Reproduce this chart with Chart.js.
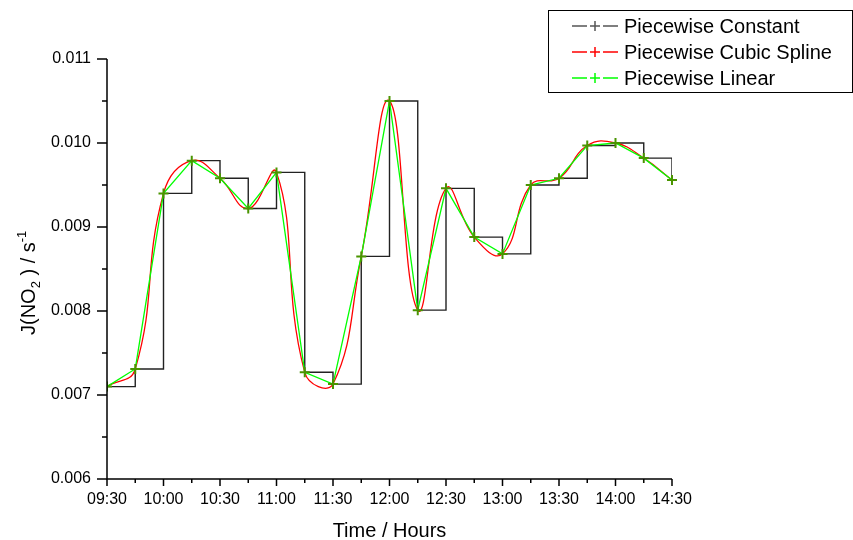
<!DOCTYPE html>
<html lang="en">
<head>
<meta charset="UTF-8">
<title>J(NO2) interpolation</title>
<script src="https://cdn.jsdelivr.net/npm/chart.js@4.4.1/dist/chart.umd.min.js"></script>
<style>
    html, body { margin: 0; padding: 0; background: #fff; }
    #chart { display: block; }
</style>
</head>
<body>
<canvas id="chart" width="853" height="540"></canvas>
<script>
// measurement times and photolysis rate J(NO2) in s^-1
const times = ['09:30', '09:45', '10:00', '10:15', '10:30', '10:45', '11:00',
               '11:15', '11:30', '11:45', '12:00', '12:15', '12:30', '12:45',
               '13:00', '13:15', '13:30', '13:45', '14:00', '14:15', '14:30'];
const jValues = [0.00710, 0.00731, 0.00940, 0.00979, 0.00958, 0.00922, 0.00965,
                 0.00727, 0.00713, 0.00865, 0.01050, 0.00801, 0.00946, 0.00888,
                 0.00868, 0.00950, 0.00958, 0.00997, 0.01000, 0.00982, 0.00956];
const seriesNames = ['Piecewise Constant', 'Piecewise Cubic Spline', 'Piecewise Linear'];
const seriesColors = ['#222222', '#ff0000', '#00ff00'];
const yTicks = [0.006, 0.007, 0.008, 0.009, 0.010, 0.011];

const FONT = '"Liberation Sans", Arial, sans-serif';

function toMinutes(t) {
    const [h, m] = t.split(':').map(Number);
    return h * 60 + m;
}
function fmtTime(v) {
    const h = Math.floor(v / 60), m = v % 60;
    return String(h).padStart(2, '0') + ':' + String(m).padStart(2, '0');
}

const points = times.map((t, i) => ({ x: toMinutes(t), y: jValues[i] }));
const xMin = toMinutes(times[0]);
const xMax = toMinutes(times[times.length - 1]);

// axes lines, major/minor ticks, axis titles and the boxed legend
const decorations = {
    id: 'decorations',
    afterDraw(chart) {
        const ctx = chart.ctx;
        const area = chart.chartArea;
        const xs = chart.scales.x, ys = chart.scales.y;
        ctx.save();
        ctx.strokeStyle = '#000';
        ctx.lineWidth = 1.5;
        ctx.beginPath();
        ctx.moveTo(area.left, area.top);
        ctx.lineTo(area.left, area.bottom);
        ctx.lineTo(area.right, area.bottom);
        ctx.stroke();

        ctx.beginPath();
        for (let v = xMin; v <= xMax; v += 15) {
            const px = xs.getPixelForValue(v);
            const len = (v % 30 === 0) ? 7 : 4;
            ctx.moveTo(px, area.bottom);
            ctx.lineTo(px, area.bottom + len);
        }
        for (let i = 0; i <= 10; i++) {
            const v = yTicks[0] + i * 0.0005;
            const py = ys.getPixelForValue(v);
            const len = (i % 2 === 0) ? 10 : 5;
            ctx.moveTo(area.left, py);
            ctx.lineTo(area.left - len, py);
        }
        ctx.stroke();

        // x title
        ctx.fillStyle = '#000';
        ctx.font = '20px ' + FONT;
        ctx.textAlign = 'center';
        ctx.textBaseline = 'alphabetic';
        ctx.fillText('Time / Hours', (area.left + area.right) / 2, 537);

        // y title with subscript and superscript
        ctx.save();
        ctx.translate(35, 335);
        ctx.rotate(-Math.PI / 2);
        ctx.textAlign = 'left';
        const parts = [
            ['J(NO', 20, 0],
            ['2', 13, 5],
            [' ) / s', 20, 0],
            ['-1', 13, -9]
        ];
        let x = 0;
        for (const [txt, size, dy] of parts) {
            ctx.font = size + 'px ' + FONT;
            ctx.fillText(txt, x, dy);
            x += ctx.measureText(txt).width;
        }
        ctx.restore();

        // legend
        ctx.lineWidth = 1;
        ctx.strokeStyle = '#000';
        ctx.strokeRect(548.5, 10.5, 304, 82);
        ctx.font = '20px ' + FONT;
        ctx.textBaseline = 'middle';
        ctx.textAlign = 'left';
        seriesNames.forEach((name, i) => {
            const y = 26 + i * 26;
            ctx.strokeStyle = i === 0 ? '#555' : seriesColors[i];
            ctx.lineWidth = 1.5;
            ctx.beginPath();
            ctx.moveTo(572, y); ctx.lineTo(587, y);
            ctx.moveTo(603, y); ctx.lineTo(618, y);
            ctx.moveTo(590, y); ctx.lineTo(600, y);
            ctx.moveTo(595, y - 5); ctx.lineTo(595, y + 5);
            ctx.stroke();
            ctx.fillStyle = '#000';
            ctx.fillText(name, 624, y + 1);
        });
        ctx.restore();
    }
};

new Chart(document.getElementById('chart'), {
    type: 'line',
    data: {
        datasets: [
            {
                label: seriesNames[2],
                data: points,
                borderColor: seriesColors[2],
                borderWidth: 1.3,
                tension: 0,
                pointStyle: 'cross',
                pointRadius: 5,
                pointBorderColor: '#4a9400',
                pointBorderWidth: 2,
                clip: { left: 0, top: 10, right: 10, bottom: 10 },
                order: 0
            },
            {
                label: seriesNames[1],
                data: points,
                borderColor: seriesColors[1],
                borderWidth: 1.3,
                tension: 0.45,
                pointRadius: 0,
                order: 1
            },
            {
                label: seriesNames[0],
                data: points,
                borderColor: seriesColors[0],
                borderWidth: 1.4,
                stepped: true,
                pointRadius: 0,
                order: 2
            }
        ]
    },
    options: {
        responsive: false,
        animation: false,
        devicePixelRatio: 1,
        layout: { padding: { top: 59, right: 181, left: 0, bottom: 0 } },
        plugins: {
            legend: { display: false },
            tooltip: { enabled: false }
        },
        scales: {
            x: {
                type: 'linear',
                min: xMin,
                max: xMax,
                grid: { display: false, drawTicks: false },
                border: { display: false },
                ticks: {
                    stepSize: 30,
                    padding: 11,
                    color: '#000',
                    font: { family: FONT, size: 16 },
                    maxRotation: 0,
                    callback: v => fmtTime(v)
                },
                afterFit: s => { s.height = 61; }
            },
            y: {
                min: yTicks[0],
                max: yTicks[yTicks.length - 1],
                grid: { display: false, drawTicks: false },
                border: { display: false },
                afterBuildTicks: s => { s.ticks = yTicks.map(v => ({ value: v })); },
                ticks: {
                    padding: 16,
                    color: '#000',
                    font: { family: FONT, size: 16 },
                    callback: v => v.toFixed(3)
                },
                afterFit: s => { s.width = 107; }
            }
        }
    },
    plugins: [decorations]
});
</script>
</body>
</html>
